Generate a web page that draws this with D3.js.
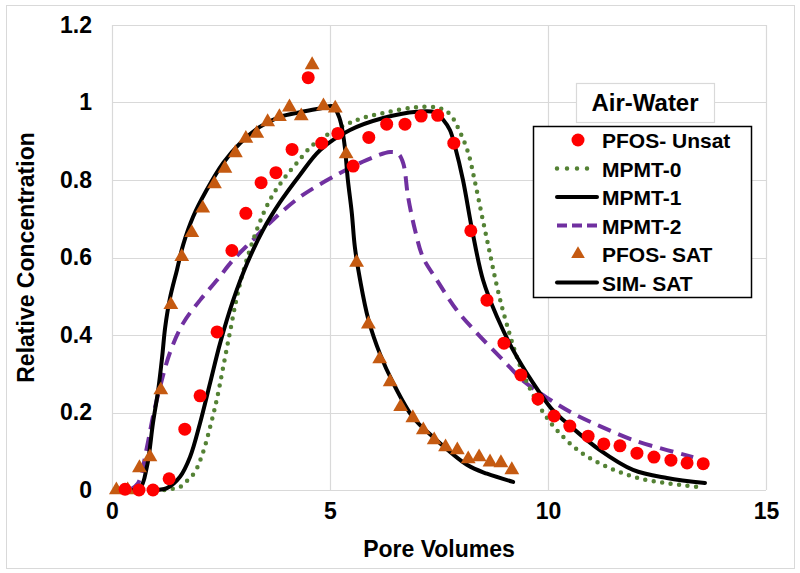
<!DOCTYPE html>
<html><head><meta charset="utf-8">
<script src="https://cdn.jsdelivr.net/npm/d3@7"></script>
<style>body{margin:0;background:#fff}svg text{font-family:"Liberation Sans",Arial,sans-serif;font-weight:bold;fill:#000}</style>
</head><body><svg id="c" width="800" height="573"></svg>
<script>
// ---- Data ----
const xTicks = [0, 5, 10, 15];
const yTicks = [0, 0.2, 0.4, 0.6, 0.8, 1, 1.2];
const yTickLabels = ["0", "0.2", "0.4", "0.6", "0.8", "1", "1.2"];
const xTitle = "Pore Volumes";
const yTitle = "Relative Concentration";
const legendTitle = "Air-Water";
const seriesNames = ["PFOS- Unsat", "MPMT-0", "MPMT-1", "MPMT-2", "PFOS- SAT", "SIM- SAT"];

const pfosUnsatX = [0.30,0.62,0.94,1.31,1.67,2.02,2.41,2.75,3.07,3.42,3.76,4.13,4.50,4.81,5.18,5.53,5.89,6.30,6.72,7.09,7.47,7.84,8.23,8.60,8.99,9.38,9.77,10.14,10.50,10.92,11.28,11.65,12.04,12.43,12.82,13.19,13.56];
const pfosUnsatY = [0.002,0,0,0.029,0.157,0.243,0.408,0.618,0.714,0.793,0.819,0.879,1.064,0.895,0.92,0.836,0.91,0.944,0.944,0.965,0.967,0.895,0.669,0.49,0.379,0.297,0.235,0.191,0.165,0.139,0.119,0.114,0.095,0.085,0.077,0.07,0.068];

const pfosSatX = [0.10,0.36,0.63,0.87,1.12,1.35,1.60,1.83,2.08,2.35,2.59,2.83,3.07,3.32,3.57,3.84,4.07,4.34,4.59,4.85,5.12,5.37,5.61,5.88,6.14,6.38,6.62,6.90,7.14,7.39,7.65,7.92,8.17,8.42,8.67,8.92,9.17];
const pfosSatY = [0,0,0.057,0.085,0.258,0.478,0.602,0.664,0.727,0.79,0.83,0.87,0.907,0.92,0.95,0.963,0.988,0.965,1.097,0.991,0.985,0.867,0.587,0.428,0.338,0.279,0.215,0.186,0.155,0.129,0.111,0.103,0.08,0.085,0.072,0.07,0.052];

const mpmt0X = [1.2,1.56,1.74,1.9,2.09,2.29,2.41,2.55,2.71,2.85,3.0,3.32,3.62,3.92,4.24,4.6,4.93,5.62,6.31,7.02,7.5,7.75,7.98,8.17,8.33,8.49,8.65,8.8,8.95,9.1,9.25,9.43,9.66,9.89,10.2,10.73,11.35,12.1,13.03,13.56];
const mpmt0Y = [0,0.008,0.026,0.046,0.098,0.18,0.237,0.317,0.41,0.49,0.56,0.671,0.748,0.8,0.844,0.89,0.916,0.955,0.975,0.988,0.986,0.97,0.924,0.87,0.792,0.705,0.62,0.54,0.47,0.41,0.355,0.3,0.245,0.2,0.155,0.099,0.06,0.03,0.013,0.007];

const mpmt1X = [0.9,1.26,1.56,1.79,2.02,2.25,2.48,2.78,3.1,3.46,3.85,4.31,4.77,5.46,6.22,7.0,7.4,7.6,7.75,7.87,8.05,8.26,8.51,8.83,9.2,9.66,10.11,10.43,11.19,11.95,12.73,13.6];
const mpmt1Y = [0,0.005,0.034,0.085,0.173,0.276,0.379,0.49,0.585,0.67,0.742,0.813,0.877,0.929,0.96,0.976,0.975,0.955,0.929,0.885,0.8,0.671,0.542,0.447,0.361,0.276,0.206,0.173,0.103,0.052,0.031,0.018];

const mpmt2X = [0.41,0.6,0.8,0.94,1.1,1.33,1.63,2.02,2.41,2.78,3.23,3.69,4.31,5.07,5.85,6.38,6.56,6.68,6.79,6.95,7.13,7.45,7.91,8.37,8.97,9.45,9.89,10.2,10.6,11.19,11.95,12.73,13.33];
const mpmt2Y = [0,0.018,0.11,0.19,0.265,0.355,0.43,0.49,0.542,0.594,0.645,0.697,0.756,0.808,0.852,0.872,0.868,0.843,0.757,0.671,0.601,0.542,0.464,0.405,0.335,0.28,0.245,0.222,0.196,0.165,0.129,0.103,0.085];

const simSatX = [0.3,0.64,0.8,0.94,1.06,1.15,1.22,1.33,1.49,1.63,1.86,2.17,2.55,2.94,3.39,3.85,4.31,4.8,5.07,5.2,5.27,5.34,5.41,5.5,5.57,5.69,5.88,6.15,6.45,6.9,7.36,8.14,8.6,9.2];
const simSatY = [0,0.005,0.06,0.173,0.258,0.343,0.42,0.495,0.568,0.632,0.705,0.774,0.844,0.895,0.937,0.963,0.975,0.985,0.99,0.965,0.937,0.885,0.8,0.715,0.627,0.542,0.44,0.35,0.276,0.188,0.137,0.065,0.042,0.021];

// ---- Layout ----
const svg = d3.select("#c");
const m = {l:112, r:766, t:25, b:490};
const x = d3.scaleLinear().domain([0,15]).range([m.l, m.r]);
const y = d3.scaleLinear().domain([0,1.2]).range([m.b, m.t]);
const GRID = "#d9d9d9";

svg.append("rect").attr("x",6.5).attr("y",5.5).attr("width",788).attr("height",563)
  .attr("fill","#fff").attr("stroke",GRID).attr("stroke-width",1);

// gridlines
svg.append("g").selectAll("line").data(yTicks).join("line")
  .attr("x1",m.l).attr("x2",m.r).attr("y1",d=>Math.round(y(d))+0.5).attr("y2",d=>Math.round(y(d))+0.5)
  .attr("stroke",GRID).attr("stroke-width",1.2);
svg.append("g").selectAll("line").data(xTicks).join("line")
  .attr("y1",m.t).attr("y2",m.b).attr("x1",d=>Math.round(x(d))+0.5).attr("x2",d=>Math.round(x(d))+0.5)
  .attr("stroke",GRID).attr("stroke-width",1.2);

// axes (labels only)
const xAxis = d3.axisBottom(x).tickValues(xTicks).tickSize(0).tickPadding(22).tickFormat(d3.format("d"));
const gx = svg.append("g").attr("transform",`translate(0,${m.b})`).call(xAxis);
gx.select(".domain").remove();
gx.selectAll("text").attr("font-size",23).style("font-family","Liberation Sans, Arial").style("font-weight","bold").attr("dy","0.3em");

const yAxis = d3.axisLeft(y).tickValues(yTicks).tickSize(0).tickPadding(20).tickFormat((d,i)=>yTickLabels[i]);
const gy = svg.append("g").attr("transform",`translate(${m.l},0)`).call(yAxis);
gy.select(".domain").remove();
gy.selectAll("text").attr("font-size",23).style("font-family","Liberation Sans, Arial").style("font-weight","bold");

// titles
svg.append("text").attr("x",(m.l+m.r)/2).attr("y",557).attr("text-anchor","middle").attr("font-size",23).text(xTitle);
svg.append("text").attr("transform",`translate(34,${(m.t+m.b)/2}) rotate(-90)`).attr("text-anchor","middle").attr("font-size",23).text(yTitle);

// lines
const zip = (xs,ys)=>xs.map((v,i)=>[v,ys[i]]);
const line = d3.line().x(d=>x(d[0])).y(d=>y(d[1])).curve(d3.curveCatmullRom.alpha(0.5));
const plot = svg.append("g");
plot.append("path").datum(zip(mpmt2X,mpmt2Y)).attr("d",line).attr("fill","none")
  .attr("stroke","#7030A0").attr("stroke-width",4).attr("stroke-dasharray","14,8");
plot.append("path").datum(zip(mpmt0X,mpmt0Y)).attr("d",line).attr("fill","none")
  .attr("stroke","#548235").attr("stroke-width",4.5).attr("stroke-linecap","round").attr("stroke-dasharray","0,8.5");
plot.append("path").datum(zip(mpmt1X,mpmt1Y)).attr("d",line).attr("fill","none")
  .attr("stroke","#000").attr("stroke-width",4).attr("stroke-linecap","round");
plot.append("path").datum(zip(simSatX,simSatY)).attr("d",line).attr("fill","none")
  .attr("stroke","#000").attr("stroke-width",4).attr("stroke-linecap","round");

// markers
const tri = d3.symbol().type(d3.symbolTriangle).size(95);
plot.append("g").selectAll("path").data(zip(pfosSatX,pfosSatY)).join("path")
  .attr("d",tri).attr("transform",d=>`translate(${x(d[0])},${y(d[1])})`)
  .attr("fill","#C55A11");
plot.append("g").selectAll("circle").data(zip(pfosUnsatX,pfosUnsatY)).join("circle")
  .attr("cx",d=>x(d[0])).attr("cy",d=>y(d[1])).attr("r",6.5).attr("fill","#FF0000");

// legend title
svg.append("rect").attr("x",576.5).attr("y",83.5).attr("width",138).attr("height",39)
  .attr("fill","#fff").attr("stroke",GRID).attr("stroke-width",1.2);
svg.append("text").attr("x",645).attr("y",111).attr("text-anchor","middle").attr("font-size",24).text(legendTitle);

// legend
const lg = svg.append("g");
lg.append("rect").attr("x",533.5).attr("y",126.5).attr("width",218).attr("height",171)
  .attr("fill","#fff").attr("stroke","#000").attr("stroke-width",1.5);
const rowY = i => 140 + i*28.5;
const lx1 = 557, lx2 = 597, lc = 578;
seriesNames.forEach((n,i)=>{
  lg.append("text").attr("x",602).attr("y",rowY(i)+8).attr("font-size",21).text(n);
});
lg.append("circle").attr("cx",lc).attr("cy",rowY(0)).attr("r",6.5).attr("fill","#FF0000");
lg.append("line").attr("x1",lx1).attr("x2",lx2).attr("y1",rowY(1)).attr("y2",rowY(1))
  .attr("stroke","#548235").attr("stroke-width",4.5).attr("stroke-linecap","round").attr("stroke-dasharray","0,10");
lg.append("line").attr("x1",lx1).attr("x2",lx2).attr("y1",rowY(2)).attr("y2",rowY(2))
  .attr("stroke","#000").attr("stroke-width",4).attr("stroke-linecap","round");
lg.append("line").attr("x1",lx1).attr("x2",lx2).attr("y1",rowY(3)).attr("y2",rowY(3))
  .attr("stroke","#7030A0").attr("stroke-width",4).attr("stroke-dasharray","10,5");
lg.append("path").attr("d",tri.size(80)).attr("transform",`translate(${lc},${rowY(4)})`).attr("fill","#C55A11");
lg.append("line").attr("x1",lx1).attr("x2",lx2).attr("y1",rowY(5)).attr("y2",rowY(5))
  .attr("stroke","#000").attr("stroke-width",4).attr("stroke-linecap","round");
</script></body></html>
